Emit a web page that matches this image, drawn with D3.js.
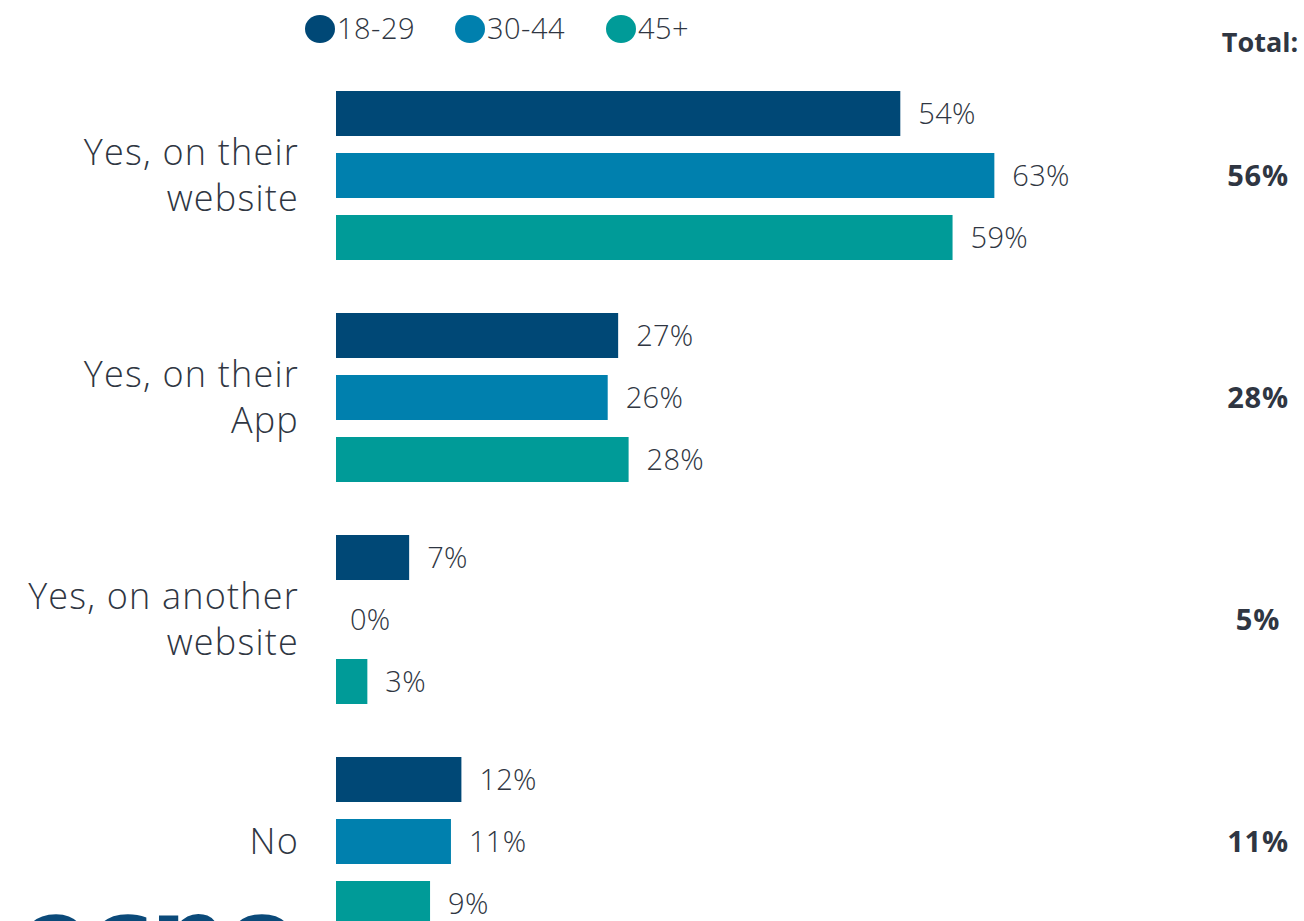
<!DOCTYPE html>
<html><head><meta charset="utf-8">
<script src="https://cdn.jsdelivr.net/npm/d3@7"></script>
<style>body{margin:0;background:#fff}svg{display:block}</style>
</head><body>
<script>
const categories = [["Yes, on their","website"],["Yes, on their","App"],["Yes, on another","website"],["No"]];
const seriesNames = ["18-29","30-44","45+"];
const s1829 = [54,27,7,12];
const s3044 = [63,26,0,11];
const s45 = [59,28,3,9];
const totals = ["56%","28%","5%","11%"];
const colors = ["#004876","#0080AE","#009B98"];
const series = [s1829,s3044,s45];

const W=1304,H=921;
const svg=d3.select("body").append("svg").attr("width",W).attr("height",H);
const textColor="#2f3642";
const font="'Open Sans', 'DejaVu Sans', sans-serif";

const x=d3.scaleLinear().domain([0,100]).range([336,336+1045]);
const yGroup=d3.scaleBand().domain(d3.range(categories.length)).range([91,91+4*222]).paddingInner(0).paddingOuter(0);
const yInner=d3.scaleBand().domain(d3.range(3)).range([0,169]).paddingInner(17/62).paddingOuter(0);

const g=svg.selectAll("g.grp").data(categories).join("g").attr("class","grp")
  .attr("transform",(d,i)=>`translate(0,${yGroup(i)})`);

series.forEach((vals,si)=>{
  g.append("rect").attr("x",x(0)).attr("y",yInner(si))
    .attr("width",(d,i)=>x(vals[i])-x(0)).attr("height",yInner.bandwidth())
    .attr("fill",colors[si]);
  g.append("text").attr("x",(d,i)=>x(vals[i])+(vals[i]===0?14:18)).attr("y",yInner(si)+yInner.bandwidth()/2)
    .attr("dy","0.36em").attr("font-family",font).attr("font-weight",300).attr("font-size",29)
    .attr("fill",textColor).attr("letter-spacing",0.3).text((d,i)=>vals[i]+"%");
});

// category labels
g.each(function(d,i){
  const t=d3.select(this).append("text").attr("text-anchor","end").attr("font-family",font)
    .attr("font-weight",300).attr("font-size",36).attr("letter-spacing",1.2).attr("fill",textColor);
  const mid=yInner(1)+yInner.bandwidth()/2;
  const lh=46;
  d.forEach((line,li)=>{
    t.append("tspan").attr("x",299).attr("y",mid+(li-(d.length-1)/2)*lh).attr("dy","0.36em").text(line);
  });
});

// totals
g.append("text").attr("x",1258).attr("y",yInner(1)+yInner.bandwidth()/2).attr("dy","0.36em")
  .attr("text-anchor","middle").attr("font-family",font).attr("font-weight",700).attr("font-size",29)
  .attr("letter-spacing",0.8).attr("fill",textColor).text((d,i)=>totals[i]);
svg.append("text").attr("x",1260).attr("y",42).attr("dy","0.36em").attr("text-anchor","middle")
  .attr("font-family",font).attr("font-weight",700).attr("font-size",27).attr("fill",textColor).text("Total:");

// legend
const lx=[320,470,621];
const lg=svg.selectAll("g.leg").data(seriesNames).join("g").attr("class","leg")
  .attr("transform",(d,i)=>`translate(${lx[i]},29)`);
lg.append("ellipse").attr("rx",15).attr("ry",14).attr("fill",(d,i)=>colors[i]);
lg.append("text").attr("x",17).attr("dy","0.36em").attr("font-family",font).attr("font-weight",300)
  .attr("font-size",29).attr("letter-spacing",0.5).attr("fill",textColor).text(d=>d);

// partial logo at bottom-left (cut off by the bottom edge, as in the source)
svg.append("text").attr("x",18).attr("y",976).attr("font-family","'DejaVu Sans', sans-serif")
  .attr("font-weight",700).attr("font-size",110).attr("fill","#0b4a7a").attr("letter-spacing",-4).text("ecno");
</script>
</body></html>
